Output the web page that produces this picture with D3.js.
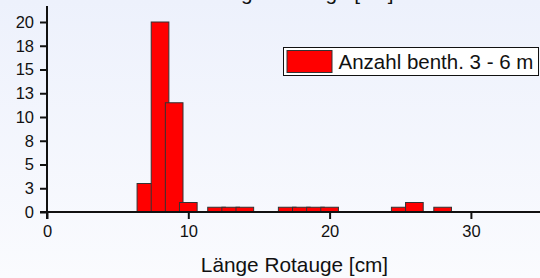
<!DOCTYPE html>
<html lang="de">
<head>
    <meta charset="UTF-8">
    <title>Länge Rotauge</title>
    <script src="https://d3js.org/d3.v7.min.js"></script>
    <style>
        body { margin: 0; }
        svg { display: block; font-family: "Liberation Sans", Arial, sans-serif; }
    </style>
</head>
<body>
<script type="text/javascript">
    // bin centres (cm) and counts
    var lengths = [7, 8, 9, 10, 12, 13, 14, 17, 18, 19, 20, 25, 26, 28];
    var counts = [3, 20, 11.5, 1, 0.5, 0.5, 0.5, 0.5, 0.5, 0.5, 0.5, 0.5, 1, 0.5];
    var yTickValues = [0, 2.5, 5, 7.5, 10, 12.5, 15, 17.5, 20];
    var yTickLabels = ["0", "3", "5", "8", "10", "13", "15", "18", "20"];
    var xTickValues = [0, 10, 20, 30];
    var seriesName = "Anzahl benth. 3 - 6 m";
    var axisTitle = "Länge Rotauge [cm]";

    var svgWidth = 540, svgHeight = 278;
    var barWidth = 1.25;

    var svg = d3.select("body").append("svg")
        .attr("width", svgWidth)
        .attr("height", svgHeight);

    var defs = svg.append("defs");
    var grad = defs.append("linearGradient")
        .attr("id", "bg").attr("x1", 0).attr("y1", 0).attr("x2", 0).attr("y2", 1);
    grad.append("stop").attr("offset", "0%").attr("stop-color", "#edf1fc");
    grad.append("stop").attr("offset", "100%").attr("stop-color", "#fafbfe");
    svg.append("rect").attr("width", svgWidth).attr("height", svgHeight).attr("fill", "url(#bg)");

    var xScale = d3.scaleLinear().domain([0, 35]).range([47, 47 + 35 * 14.13]);
    var yScale = d3.scaleLinear().domain([0, 20]).range([212, 22]);

    // title, mostly outside the picture (as in the original)
    svg.append("text")
        .attr("x", 300).attr("y", 0)
        .attr("text-anchor", "middle")
        .attr("font-size", "20.8px")
        .attr("fill", "#111")
        .text(axisTitle);

    // bars, drawn left to right so each overlaps the previous one
    var data = lengths.map(function (d, i) { return [d, counts[i]]; });
    svg.selectAll("rect.bar")
        .data(data)
        .enter()
        .append("rect")
        .attr("class", "bar")
        .attr("x", function (d) { return xScale(d[0] - barWidth / 2); })
        .attr("y", function (d) { return yScale(d[1]); })
        .attr("width", function (d) { return xScale(barWidth) - xScale(0); })
        .attr("height", function (d) { return yScale(0) - yScale(d[1]); })
        .attr("fill", "#ff0000")
        .attr("stroke", "#333")
        .attr("stroke-width", 1);

    var yAxis = d3.axisLeft(yScale)
        .tickValues(yTickValues)
        .tickFormat(function (d, i) { return yTickLabels[i]; })
        .tickSize(7)
        .tickPadding(6);
    var gy = svg.append("g")
        .attr("transform", "translate(" + xScale(0) + ",0)")
        .call(yAxis);

    var xAxis = d3.axisBottom(xScale)
        .tickValues(xTickValues)
        .tickSize(7)
        .tickPadding(6);
    var gx = svg.append("g")
        .attr("transform", "translate(0," + yScale(0) + ")")
        .call(xAxis);

    [gx, gy].forEach(function (g) {
        g.select(".domain").remove();
        g.selectAll("line").attr("stroke", "#111").attr("stroke-width", 2);
        g.selectAll("text")
            .attr("font-family", "Liberation Sans, Arial, sans-serif")
            .attr("font-size", "16.5px")
            .attr("fill", "#111");
    });

    // axis lines
    svg.append("line")
        .attr("x1", xScale(0)).attr("x2", xScale(0))
        .attr("y1", 6).attr("y2", yScale(0) + 7)
        .attr("stroke", "#111").attr("stroke-width", 2);
    svg.append("line")
        .attr("x1", xScale(0) - 7).attr("x2", svgWidth)
        .attr("y1", yScale(0)).attr("y2", yScale(0))
        .attr("stroke", "#111").attr("stroke-width", 2);

    svg.append("text")
        .attr("x", 294.5).attr("y", 271.5)
        .attr("text-anchor", "middle")
        .attr("font-size", "20.8px")
        .attr("fill", "#111")
        .text(axisTitle);

    // legend
    var legend = svg.append("g").attr("transform", "translate(283.5,47.5)");
    legend.append("rect")
        .attr("width", 255).attr("height", 28)
        .attr("fill", "#fff").attr("stroke", "#111").attr("stroke-width", 1);
    legend.append("rect")
        .attr("x", 3.5).attr("y", 3).attr("width", 45).attr("height", 22)
        .attr("fill", "#ff0000").attr("stroke", "#333");
    legend.append("text")
        .attr("x", 55).attr("y", 21)
        .attr("font-size", "20.5px")
        .attr("fill", "#111")
        .text(seriesName);
</script>
</body>
</html>
